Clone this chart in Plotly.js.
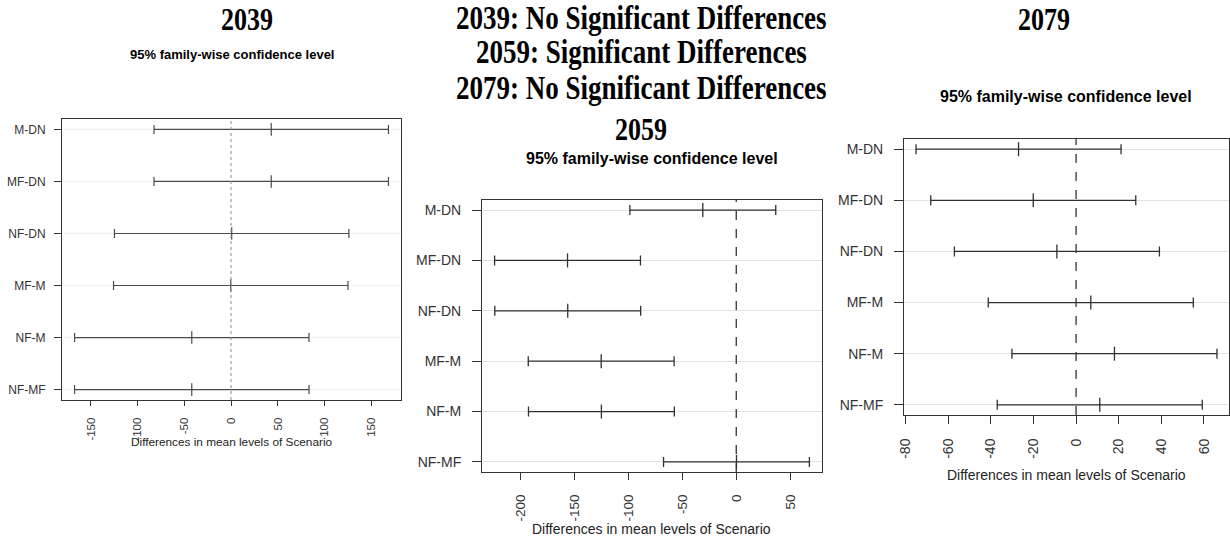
<!DOCTYPE html>
<html>
<head>
<meta charset="utf-8">
<script src="https://cdn.plot.ly/plotly-3.0.1.min.js"></script>
<style>
  html, body { margin: 0; padding: 0; background: #ffffff; }
  #chart { width: 1230px; height: 537px; }
  /* tall, tight serif headings */
  .tall-heading { transform-box: fill-box; transform-origin: center; transform: scaleY(1.25); }
</style>
</head>
<body>
<div id="chart"></div>
<script>
// Tukey HSD pairwise comparisons of Scenario means, one panel per year
const comparisons = ["M-DN", "MF-DN", "NF-DN", "MF-M", "NF-M", "NF-MF"];

const diff2039 = [43.0, 43.0, 0.7, -0.3, -42.0, -42.0];
const lwr2039  = [-82.4, -82.4, -124.7, -125.7, -167.4, -167.4];
const upr2039  = [168.4, 168.4, 126.1, 125.1, 83.4, 83.4];

const diff2059 = [-31.0, -156.4, -156.2, -125.2, -125.0, 0.2];
const lwr2059  = [-98.6, -224.0, -223.8, -192.8, -192.6, -67.4];
const upr2059  = [36.6, -88.8, -88.6, -57.6, -57.4, 67.8];

const diff2079 = [-27.0, -20.1, -9.0, 6.9, 18.0, 11.1];
const lwr2079  = [-75.1, -68.2, -57.1, -41.2, -30.1, -37.0];
const upr2079  = [21.1, 28.0, 39.1, 55.0, 66.1, 59.2];

// x-axis tick values per panel
const ticks2039 = [-150, -100, -50, 0, 50, 100, 150];
const ticks2059 = [-200, -150, -100, -50, 0, 50];
const ticks2079 = [-80, -60, -40, -20, 0, 20, 40, 60];

const yearLabels = ["2039", "2059", "2079"];
const summaryLines = [
  "2039: No Significant Differences",
  "2059: Significant Differences",
  "2079: No Significant Differences"
];
const subtitle = "95% family-wise confidence level";
const axisTitle = "Differences in mean levels of Scenario";

const W = 1230, H = 537;
const px = v => v / W;
const py = v => 1 - v / H;

const sans = "Liberation Sans, Arial, sans-serif";
const serif = "Liberation Serif, Times New Roman, serif";

// panel geometry in pixels: left, right, top, bottom of the plotting box
const panels = [
  { diff: diff2039, lwr: lwr2039, upr: upr2039, ticks: ticks2039, box: [62, 401, 119, 400],
    font: 12, tickFont: 11.5, color: "#4a4a4a", width: 1.2, cap: 4.5,
    grid: "#f1f1f1", zero: { color: "#8a8a8a", dash: "dot", width: 1 },
    ylen: 7, yStand: 6, xlen: 5, xStand: 7 },
  { diff: diff2059, lwr: lwr2059, upr: upr2059, ticks: ticks2059, box: [482, 822, 200, 472],
    font: 14, tickFont: 13.5, color: "#303030", width: 1.3, cap: 5,
    grid: "#e2e2e2", zero: { color: "#333333", dash: "dash", width: 1.3 },
    ylen: 9, yStand: 8, xlen: 7, xStand: 9 },
  { diff: diff2079, lwr: lwr2079, upr: upr2079, ticks: ticks2079, box: [904, 1229, 139, 415],
    font: 14, tickFont: 14, color: "#303030", width: 1.3, cap: 5,
    grid: "#e2e2e2", zero: { color: "#333333", dash: "dash", width: 1.3 },
    ylen: 9, yStand: 8, xlen: 8, xStand: 9 }
];

const data = [];
const layout = {
  width: W, height: H,
  margin: { l: 0, r: 0, t: 0, b: 0 },
  paper_bgcolor: "#ffffff",
  plot_bgcolor: "#ffffff",
  showlegend: false,
  shapes: [],
  annotations: []
};

panels.forEach((p, i) => {
  const n = i === 0 ? "" : String(i + 1);
  const xa = "x" + n, ya = "y" + n;

  data.push({
    type: "scatter",
    mode: "markers",
    x: p.diff,
    y: comparisons,
    xaxis: xa, yaxis: ya,
    marker: { symbol: "line-ns", size: p.cap * 2, line: { width: p.width, color: p.color } },
    error_x: {
      type: "data", symmetric: false,
      array: p.upr.map((u, k) => u - p.diff[k]),
      arrayminus: p.diff.map((d, k) => d - p.lwr[k]),
      color: p.color, thickness: p.width, width: p.cap
    },
    hoverinfo: "skip"
  });

  const lo = Math.min(...p.lwr), hi = Math.max(...p.upr);
  const pad = 0.04 * (hi - lo);
  const [l, r, t, b] = p.box;

  layout["xaxis" + n] = {
    domain: [px(l), px(r)],
    anchor: ya,
    range: [lo - pad, hi + pad],
    tickmode: "array",
    tickvals: p.ticks,
    ticktext: p.ticks.map(String),
    tickangle: -90,
    ticks: "outside", ticklen: p.xlen, tickwidth: 1, tickcolor: "#333333",
    ticklabelstandoff: p.xStand,
    tickfont: { family: sans, size: p.tickFont, color: "#333333" },
    showline: true, linecolor: "#333333", linewidth: 1, mirror: true,
    showgrid: false, zeroline: false, fixedrange: true
  };
  layout["yaxis" + n] = {
    domain: [py(b), py(t)],
    anchor: xa,
    type: "category",
    categoryorder: "array",
    categoryarray: comparisons.slice().reverse(),
    range: [-0.2, comparisons.length - 0.8],
    ticks: "outside", ticklen: p.ylen, tickwidth: 1, tickcolor: "#333333",
    ticklabelstandoff: p.yStand,
    tickfont: { family: sans, size: p.font, color: "#333333" },
    showline: true, linecolor: "#333333", linewidth: 1, mirror: true,
    showgrid: true, gridcolor: p.grid, gridwidth: 1,
    zeroline: false, fixedrange: true
  };

  // reference line at zero difference
  layout.shapes.push({
    type: "line", xref: xa, yref: ya + " domain",
    x0: 0, x1: 0, y0: 0, y1: 1,
    line: { color: p.zero.color, dash: p.zero.dash, width: p.zero.width }
  });
});

function label(text, x, y, size, family, bold, color) {
  layout.annotations.push({
    text: bold ? "<b>" + text + "</b>" : text,
    xref: "paper", yref: "paper",
    x: px(x), y: py(y),
    xanchor: "center", yanchor: "middle",
    showarrow: false,
    font: { family: family, size: size, color: color || "#000000" }
  });
}

// year headings and the summary block (first six annotations)
label(yearLabels[0], 247, 19, 26, serif, true);
label(yearLabels[2], 1044, 19, 26, serif, true);
label(summaryLines[0], 641, 18, 27, serif, true);
label(summaryLines[1], 641, 52, 27, serif, true);
label(summaryLines[2], 641, 88, 27, serif, true);
label(yearLabels[1], 641, 129, 26, serif, true);

// panel subtitles
label(subtitle, 232, 55, 13, sans, true);
label(subtitle, 652, 158, 16, sans, true);
label(subtitle, 1066, 97, 16, sans, true);

// x-axis titles
label(axisTitle, 232, 442, 11.8, sans, false, "#222222");
label(axisTitle, 652, 529, 14, sans, false, "#222222");
label(axisTitle, 1066, 475, 14, sans, false, "#222222");

Plotly.newPlot("chart", data, layout, { staticPlot: true, displayModeBar: false }).then(gd => {
  gd.querySelectorAll(".annotation").forEach(g => {
    const k = Number(g.getAttribute("data-index"));
    if (k < 6) g.querySelectorAll("text").forEach(t => t.classList.add("tall-heading"));
  });
});
</script>
</body>
</html>
